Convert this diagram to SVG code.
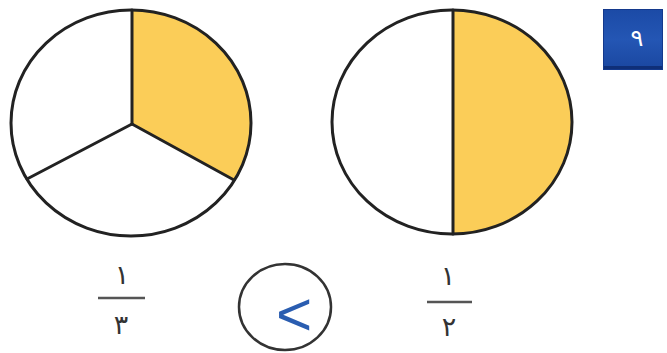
<svg xmlns="http://www.w3.org/2000/svg" width="667" height="353" viewBox="0 0 667 353">
  <defs>
    <style>
      .outline { fill: none; stroke: #222; stroke-width: 3; }
      .white { fill: #ffffff; }
      .yellow { fill: #fbcd58; stroke: none; }
      .divider { stroke: #222; stroke-width: 3; stroke-linecap: round; }
      .digit { font-family: "DejaVu Sans", sans-serif; font-size: 27px; fill: #333; text-anchor: middle; }
      .bar { stroke: #555; stroke-width: 2.5; }
    </style>
    <linearGradient id="boxGrad" x1="0" y1="0" x2="0" y2="1">
      <stop offset="0" stop-color="#1b4aa6"/>
      <stop offset="0.5" stop-color="#2456b4"/>
      <stop offset="1" stop-color="#1a47a0"/>
    </linearGradient>
  </defs>
  <rect width="667" height="353" fill="#ffffff"/>

  <g id="circle-third">
    <ellipse class="white" cx="131" cy="123" rx="120" ry="113"/>
    <path class="yellow" d="M132,124 L132,10 A120,113 0 0 1 234,180 Z"/>
    <line class="divider" x1="132" y1="124" x2="132" y2="10"/>
    <line class="divider" x1="132" y1="124" x2="234" y2="180"/>
    <line class="divider" x1="132" y1="124" x2="27" y2="179"/>
    <ellipse class="outline" cx="131" cy="123" rx="120" ry="113"/>
  </g>

  <g id="circle-half">
    <ellipse class="white" cx="452" cy="122" rx="120" ry="112"/>
    <path class="yellow" d="M453,10 A120,112 0 0 1 453,234 Z"/>
    <line class="divider" x1="453" y1="10" x2="453" y2="234"/>
    <ellipse class="outline" cx="452" cy="122" rx="120" ry="112"/>
  </g>

  <g id="fraction-third">
    <text class="digit" x="122" y="284">١</text>
    <line class="bar" x1="98" y1="298" x2="145" y2="298"/>
    <text class="digit" x="121" y="334">٣</text>
  </g>

  <g id="fraction-half">
    <text class="digit" x="448" y="285">١</text>
    <line class="bar" x1="427" y1="302" x2="472" y2="302"/>
    <text class="digit" x="449" y="336">٢</text>
  </g>

  <g id="comparison">
    <ellipse cx="285" cy="307" rx="46" ry="43" fill="none" stroke="#333" stroke-width="2.5"/>
    <text x="294" y="335" font-family="Liberation Sans, sans-serif" font-size="62" fill="#2a5db0" text-anchor="middle">&lt;</text>
  </g>

  <g id="question-number">
    <rect x="603" y="9" width="60" height="61" fill="url(#boxGrad)"/>
    <rect x="603" y="66" width="60" height="4" fill="#0f2f78"/>
    <rect x="603.5" y="9.5" width="59" height="60" fill="none" stroke="#14398c" stroke-width="1"/>
    <text x="637" y="46" font-family="DejaVu Sans, sans-serif" font-size="24" fill="#ffffff" text-anchor="middle">٩</text>
  </g>
</svg>
